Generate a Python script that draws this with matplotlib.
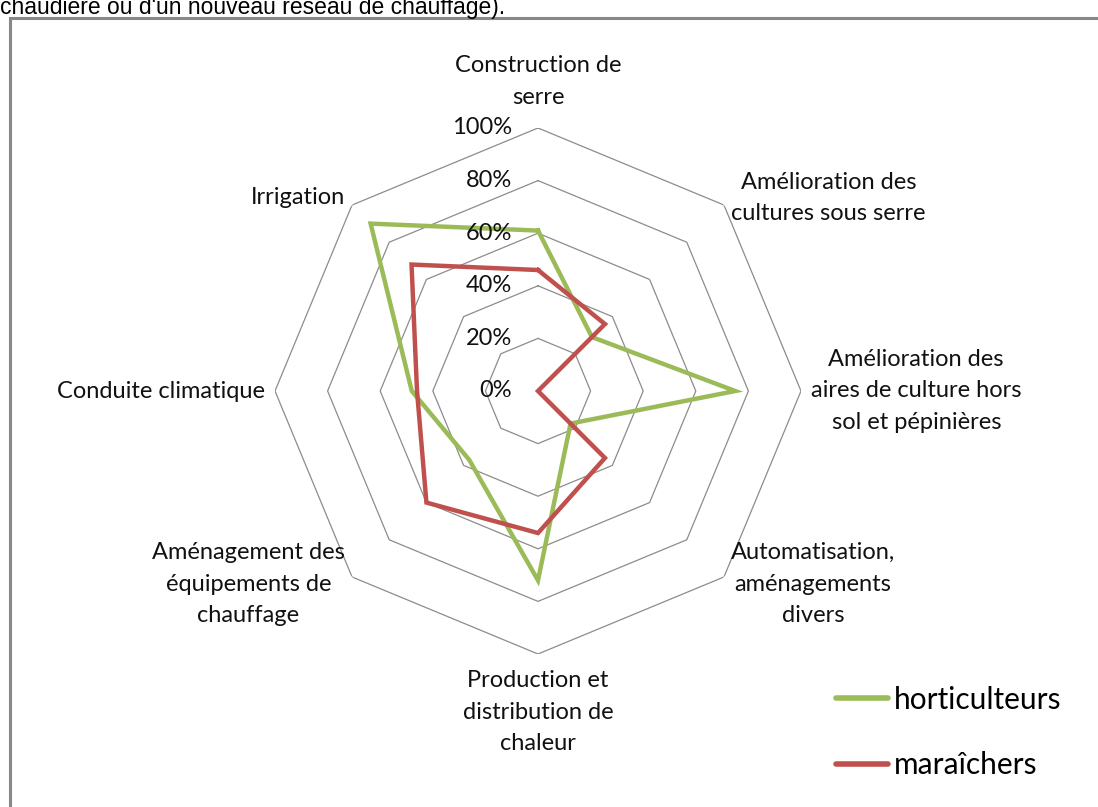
import numpy as np
import matplotlib
matplotlib.use("Agg")
import matplotlib.pyplot as plt
from matplotlib.patches import Rectangle
import matplotlib.transforms as mtransforms

# data
categories = [
    "Construction de\nserre",
    "Amélioration des\ncultures sous serre",
    "Amélioration des\naires de culture hors\nsol et pépinières",
    "Automatisation,\naménagements\ndivers",
    "Production et\ndistribution de\nchaleur",
    "Aménagement des\néquipements de\nchauffage",
    "Conduite climatique",
    "Irrigation",
]
horticulteurs = [0.61, 0.29, 0.75, 0.175, 0.72, 0.37, 0.48, 0.90]
maraichers = [0.46, 0.36, 0.0, 0.36, 0.54, 0.60, 0.46, 0.68]
ring_values = [0.2, 0.4, 0.6, 0.8, 1.0]
tick_values = [0.0, 0.2, 0.4, 0.6, 0.8, 1.0]
tick_labels = ["0%", "20%", "40%", "60%", "80%", "100%"]

GREEN = "#9BBB59"
RED = "#C0504D"
GRID = "#8c8c8c"

W, H = 1098, 807
fig = plt.figure(figsize=(W / 100, H / 100), dpi=100)
fig.patch.set_facecolor("white")

# polar axes: centre (538, 391) px, radius 263 px
cx, cy, R = 538, 391, 263
ax = fig.add_axes([(cx - R) / W, 1 - (cy + R) / H, 2 * R / W, 2 * R / H],
                  projection="polar")
ax.set_theta_offset(np.pi / 2)
ax.set_theta_direction(-1)
ax.set_ylim(0, 1)
ax.grid(False)
ax.spines["polar"].set_visible(False)
ax.set_xticks([])
ax.set_yticks([])
ax.patch.set_alpha(0)

n = len(categories)
angles = np.arange(n) * 2 * np.pi / n
closed = np.append(angles, angles[0])

# octagonal grid
for rv in ring_values:
    ax.plot(closed, [rv] * (n + 1), color=GRID, lw=0.9, zorder=1)

# series
ax.plot(closed, horticulteurs + horticulteurs[:1], color=GREEN, lw=3.2,
        label="horticulteurs", zorder=3, solid_joinstyle="miter")
ax.plot(closed, maraichers + maraichers[:1], color=RED, lw=3.2,
        label="maraîchers", zorder=4, solid_joinstyle="miter")

font = ["Lato", "DejaVu Sans"]

# percentage labels on the top axis
off = mtransforms.offset_copy(ax.transData, fig=fig, x=-26, y=0, units="dots")
for v, lab in zip(tick_values, tick_labels):
    ax.text(0, v, lab, transform=off, ha="right", va="center",
            fontsize=17, family=font, color="#111111", zorder=5)

# category labels
aligns = [("center", "bottom"), ("left", "center"), ("left", "center"),
          ("left", "center"), ("center", "top"), ("right", "center"),
          ("right", "center"), ("right", "center")]
for a, lab, (ha, va) in zip(angles, categories, aligns):
    dx = 10 * np.sin(a)
    dy = 10 * np.cos(a)
    if va == "bottom":
        dy = 20
    if va == "top":
        dy = -16
    ax.annotate(lab, xy=(a, 1.0), xytext=(dx, dy), textcoords="offset pixels",
                ha=ha, va=va, multialignment="center", fontsize=17,
                family=font, color="#111111", linespacing=1.62,
                annotation_clip=False)

leg = fig.legend(loc="upper left", bbox_to_anchor=(809 / W, 1 - 659 / H),
                 frameon=False, prop={"family": font, "size": 21.5},
                 handlelength=1.75, handletextpad=0.2, labelspacing=1.25)
for line in leg.get_lines():
    line.set_linewidth(4)
    line.set_solid_capstyle("round")

# frame around the chart, cut by the page
fig.patches.append(Rectangle((10 / W, -0.2), 1.5, 1 - 18 / H + 0.2,
                             transform=fig.transFigure, fill=False,
                             edgecolor="#888888", lw=2.2, clip_on=False))

# preceding paragraph text, cut at the top of the picture
fig.text(0.0, 1 - 14 / H, "chaudière ou d'un nouveau réseau de chauffage).",
         ha="left", va="baseline", fontsize=16.5, family="Liberation Sans",
         color="black")

fig.savefig("out.png", dpi=100, facecolor="white")
